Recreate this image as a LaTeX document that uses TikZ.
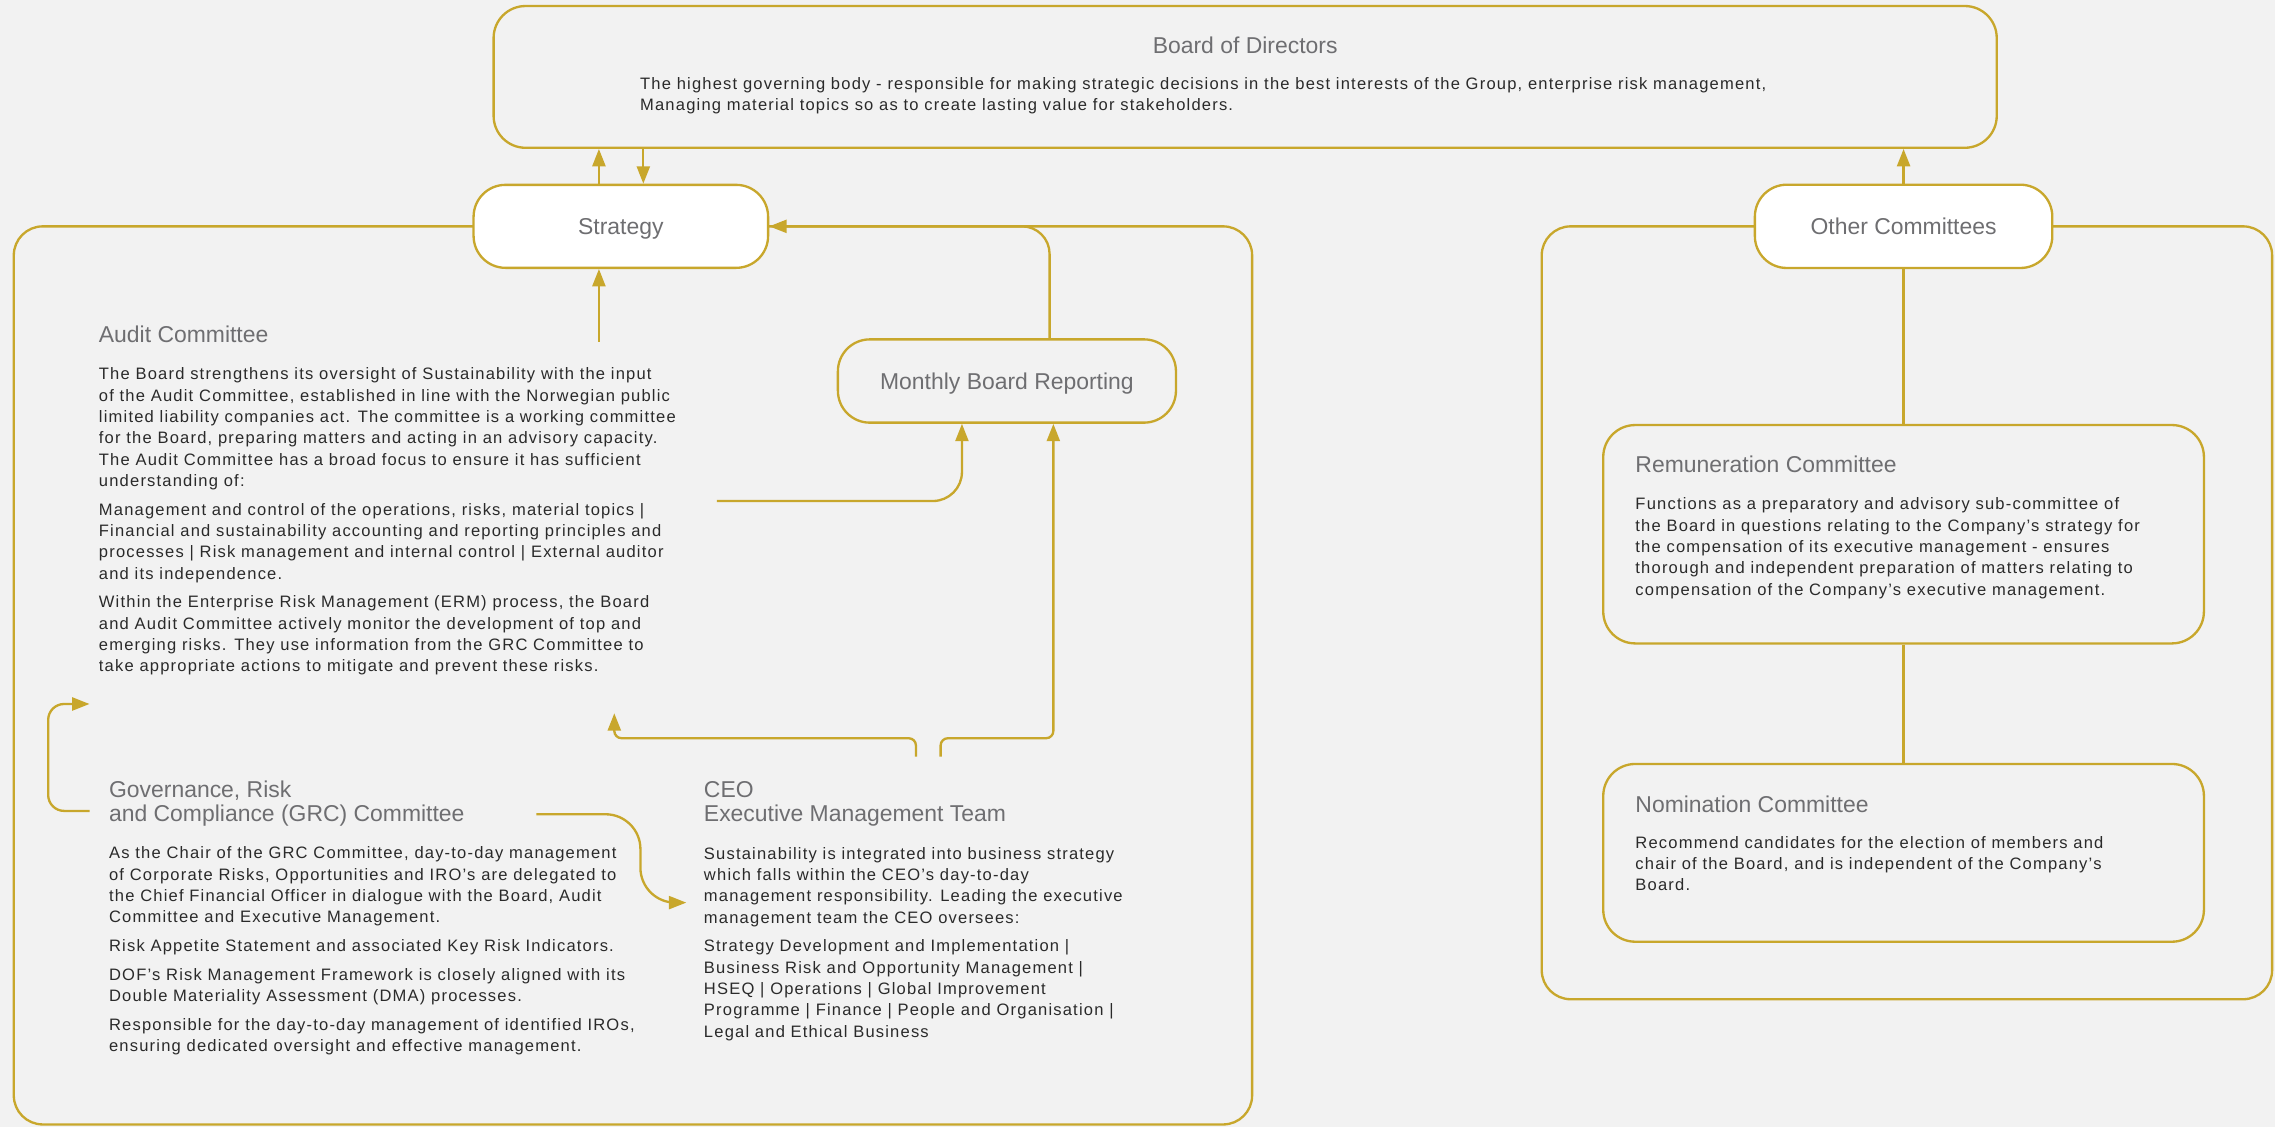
\documentclass[tikz,border=0pt]{standalone}
\usepackage{fontspec}
\setmainfont{Liberation Sans}
\newfontfamily\bodyfnt[LetterSpace=7.2]{Liberation Sans}
\usetikzlibrary{arrows.meta}
\definecolor{gold}{RGB}{200,167,44}
\definecolor{bgc}{RGB}{242,242,242}
\definecolor{ttlc}{RGB}{110,110,113}
\definecolor{bodyc}{RGB}{42,42,42}
\newcommand{\bodyblk}[2]{\parbox[t]{#1}{\bodyfnt\fontsize{11.4}{14.7}\selectfont\raggedright\setlength{\parskip}{5pt}\setlength{\parindent}{0pt}#2}}
\newcommand{\ttlblk}[1]{\parbox[t]{400pt}{\raggedright #1}}
\tikzset{
  ln/.style={draw=gold, line width=1.6pt},
  arr/.style={ln, -{Triangle[length=12pt,width=9pt]}},
  box/.style={draw=gold, line width=1.6pt, rounded corners=22pt, inner sep=0pt},
  pill/.style={box, fill=white, font=\fontsize{15.8}{17}\selectfont, text=ttlc, text depth=0pt},
  ttl/.style={inner sep=0pt, text=ttlc, font=\fontsize{15.8}{17}\selectfont, anchor=base west},
  txt/.style={inner sep=0pt, text=bodyc, anchor=base west}
}
\begin{document}
\begin{tikzpicture}[x=1pt,y=-1pt]
\useasboundingbox (0,0) rectangle (1568,777);
\fill[bgc] (0,0) rectangle (1568,777);

% containers
\draw[ln, rounded corners=20pt] (9.5,156) rectangle (863,775);
\draw[ln, rounded corners=20pt] (1062.6,156) rectangle (1566,688.7);

% boxes
\node[box, minimum width=1036pt, minimum height=97.7pt] (bod) at (858.2,53) {};
\node[pill, minimum width=203pt, minimum height=57.2pt] (strat) at (427.9,156) {Strategy};
\node[pill, fill=bgc, minimum width=233pt, minimum height=57.4pt] (mbr) at (694,262.6) {Monthly Board Reporting};
\node[pill, minimum width=205pt, minimum height=57.4pt] (oc) at (1312,156) {Other Committees};
\node[box, minimum width=414pt, minimum height=150.5pt] (rem) at (1312,368.2) {};
\node[box, minimum width=414pt, minimum height=122.5pt] (nom) at (1312,587.8) {};

% Board of Directors
\node[ttl, anchor=base] (bodt) at (858.2,36.7) {Board of Directors};
\node[txt] (bodb) at (441,61.6) {\bodyblk{1000pt}{The highest governing body - responsible for making strategic decisions in the best interests of the Group, enterprise risk management,\\
Managing material topics so as to create lasting value for stakeholders.}};

% Audit Committee
\node[ttl] (audt) at (68,236.2) {Audit Committee};
\node[txt] (audb) at (68,261.9) {\bodyblk{650pt}{The Board strengthens its oversight of Sustainability with the input\\
of the Audit Committee, established in line with the Norwegian public\\
limited liability companies act. The committee is a working committee\\
for the Board, preparing matters and acting in an advisory capacity.\\
The Audit Committee has a broad focus to ensure it has sufficient\\
understanding of:\par
Management and control of the operations, risks, material topics |\\
Financial and sustainability accounting and reporting principles and\\
processes | Risk management and internal control | External auditor\\
and its independence.\par
Within the Enterprise Risk Management (ERM) process, the Board\\
and Audit Committee actively monitor the development of top and\\
emerging risks. They use information from the GRC Committee to\\
take appropriate actions to mitigate and prevent these risks.}};

% GRC Committee
\node[ttl] (grct) at (75,549.4) {\ttlblk{Governance, Risk\\and Compliance (GRC) Committee}};
\node[txt] (grcb) at (75,592) {\bodyblk{650pt}{As the Chair of the GRC Committee, day-to-day management\\
of Corporate Risks, Opportunities and IRO’s are delegated to\\
the Chief Financial Officer in dialogue with the Board, Audit\\
Committee and Executive Management.\par
Risk Appetite Statement and associated Key Risk Indicators.\par
DOF’s Risk Management Framework is closely aligned with its\\
Double Materiality Assessment (DMA) processes.\par
Responsible for the day-to-day management of identified IROs,\\
ensuring dedicated oversight and effective management.}};

% CEO
\node[ttl] (ceot) at (485,549.5) {\ttlblk{CEO\\Executive Management Team}};
\node[txt] (ceob) at (485,592.2) {\bodyblk{650pt}{Sustainability is integrated into business strategy\\
which falls within the CEO’s day-to-day\\
management responsibility. Leading the executive\\
management team the CEO oversees:\par
Strategy Development and Implementation |\\
Business Risk and Opportunity Management |\\
HSEQ | Operations | Global Improvement\\
Programme | Finance | People and Organisation |\\
Legal and Ethical Business}};

% Remuneration
\node[ttl] (remt) at (1127,325.8) {Remuneration Committee};
\node[txt] (remb) at (1127,351.5) {\bodyblk{650pt}{Functions as a preparatory and advisory sub-committee of\\
the Board in questions relating to the Company’s strategy for\\
the compensation of its executive management - ensures\\
thorough and independent preparation of matters relating to\\
compensation of the Company’s executive management.}};

% Nomination
\node[ttl] (nomt) at (1127,560) {Nomination Committee};
\node[txt] (nomb) at (1127,584.6) {\bodyblk{650pt}{Recommend candidates for the election of members and\\
chair of the Board, and is independent of the Company’s\\
Board.}};

% connector coordinates
\coordinate (x413) at (412.8,0);
\coordinate (x443) at (443.4,0);
\coordinate (x723) at (723.4,0);
\coordinate (x663) at (663,0);
\coordinate (x726) at (726,0);
\coordinate (audtop) at (412.8,235.5);
\coordinate (audmid) at (494,345.3);
\coordinate (ceoR) at (648.3,521.5);
\coordinate (ceoL) at (631.3,521.5);
\coordinate (audbot) at (423.4,491.6);
\coordinate (grcL) at (61.7,558.9);
\coordinate (audL) at (61.7,485.2);
\coordinate (grcR) at (369.6,561.2);
\coordinate (ceoIn) at (473,622.1);

% connectors
\draw[arr] (strat.north -| x413) -- (bod.south -| x413);
\draw[arr] (bod.south -| x443) -- (strat.north -| x443);
\draw[arr] (audtop) -- (strat.south -| audtop);
\draw[arr, rounded corners=19pt] (mbr.north -| x723) |- (strat.east);
\draw[arr, rounded corners=20pt] (audmid) -| (mbr.south -| x663);
\draw[arr] (ceoR) [rounded corners=5pt] -- (648.3,508.8) -- (726,508.8) [rounded corners=20pt] -- (mbr.south -| x726);
\draw[arr, rounded corners=5pt] (ceoL) -- (631.3,508.8) -- (423.4,508.8) -- (audbot);
\draw[arr, rounded corners=11pt] (grcL) -- (33.2,558.9) -- (33.2,485.2) -- (audL);
\draw[arr] (grcR) [rounded corners=24pt] -- (441.4,561.2) -- (441.4,622.1) [rounded corners=16pt] -- (ceoIn);
\draw[arr] (oc.north) -- (oc.north |- bod.south);
\draw[ln] (oc.south) -- (rem.north);
\draw[ln] (rem.south) -- (nom.north);
\end{tikzpicture}
\end{document}
